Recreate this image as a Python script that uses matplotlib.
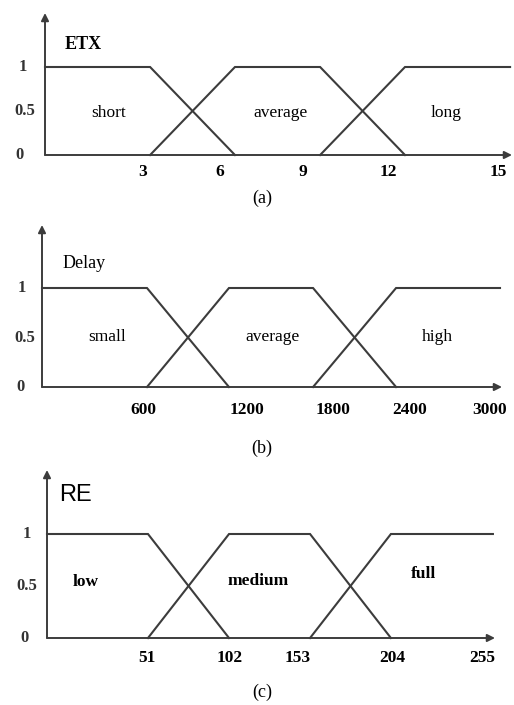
"""Funcoes de pertinencia fuzzy (ETX, Delay, RE) em tres paineis empilhados."""
import matplotlib
matplotlib.use("Agg")
import matplotlib.pyplot as plt

plt.rcParams["font.family"] = ["Liberation Serif", "DejaVu Serif"]

LARGURA, ALTURA = 514, 705
COR = "#3c3c3c"

# --- dados (unidades de cada variavel) ---
ETX_PONTOS = [3.48, 6.29, 9.11, 11.92]
ETX_FIM = 15.40
ETX_TICKS = ["3", "6", "9", "12", "15"]
ETX_TERMOS = ["short", "average", "long"]

DELAY_PONTOS = [703, 1252, 1815, 2371]
DELAY_FIM = 3067
DELAY_TICKS = ["600", "1200", "1800", "2400", "3000"]
DELAY_TERMOS = ["small", "average", "high"]

RE_PONTOS = [59.2, 106.7, 154.2, 201.6]
RE_FIM = 261.4
RE_TICKS = ["51", "102", "153", "204", "255"]
RE_TERMOS = ["low", "medium", "full"]

Y_TICKS = ["1", "0.5", "0"]

# --- layout em pixels ---
PAINEIS = [
    dict(nome="ETX", pontos=ETX_PONTOS, fim=ETX_FIM, ticks=ETX_TICKS,
         termos=ETX_TERMOS, x0=45, x_seta=512, y_zero=155, y_um=67, y_seta=13,
         escala=453 / 15, px_ticks=[143, 220, 303, 388, 498], y_ticks_px=172,
         px_termos=[109, 280, 446], y_termos=[113, 113, 113],
         px_ylab=[23, 25, 20], px_nome=(65, 45), legenda="(a)", y_leg=198,
         nome_kw=dict(fontsize=13, fontweight="bold"), termo_peso="normal"),
    dict(nome="Delay", pontos=DELAY_PONTOS, fim=DELAY_FIM, ticks=DELAY_TICKS,
         termos=DELAY_TERMOS, x0=42, x_seta=502, y_zero=387, y_um=288,
         y_seta=225, escala=448 / 3000, px_ticks=[143, 247, 333, 410, 490],
         y_ticks_px=410, px_termos=[107, 273, 437], y_termos=[337, 337, 337],
         px_ylab=[22, 25, 21], px_nome=(63, 263), legenda="(b)", y_leg=448,
         nome_kw=dict(fontsize=13), termo_peso="normal"),
    dict(nome="RE", pontos=RE_PONTOS, fim=RE_FIM, ticks=RE_TICKS,
         termos=RE_TERMOS, x0=47, x_seta=495, y_zero=638, y_um=534,
         y_seta=470, escala=435 / 255, px_ticks=[147, 230, 298, 392, 482],
         y_ticks_px=658, px_termos=[86, 258, 423], y_termos=[582, 581, 574],
         px_ylab=[27, 27, 24], px_nome=(59, 495), legenda="(c)", y_leg=692,
         nome_kw=dict(fontsize=17, family=["Liberation Sans", "DejaVu Sans"]),
         termo_peso="bold"),
]


def desenhar_painel(fig, p):
    esc = p["escala"]
    alt_um = p["y_zero"] - p["y_um"]
    xmax = (p["x_seta"] - p["x0"]) / esc
    ymax = (p["y_zero"] - p["y_seta"]) / alt_um

    ax = fig.add_axes([
        p["x0"] / LARGURA,
        1 - p["y_zero"] / ALTURA,
        (p["x_seta"] - p["x0"]) / LARGURA,
        (p["y_zero"] - p["y_seta"]) / ALTURA,
    ])
    ax.set_xlim(0, xmax)
    ax.set_ylim(0, ymax)
    ax.axis("off")

    def px_x(px):
        return (px - p["x0"]) / esc

    def px_y(py):
        return (p["y_zero"] - py) / alt_um

    b1, b2, b3, b4 = p["pontos"]
    curvas = [
        ([0, b1, b2], [1, 1, 0]),
        ([b1, b2, b3, b4], [0, 1, 1, 0]),
        ([b3, b4, p["fim"]], [0, 1, 1]),
    ]
    for xs, ys in curvas:
        ax.plot(xs, ys, color=COR, lw=1.5, clip_on=False,
                solid_joinstyle="miter")

    seta = dict(arrowstyle="-|>", color=COR, lw=1.4, mutation_scale=11,
                shrinkA=0, shrinkB=0)
    ax.annotate("", xy=(xmax, 0), xytext=(0, 0), arrowprops=seta,
                annotation_clip=False)
    ax.annotate("", xy=(0, ymax), xytext=(0, 0), arrowprops=seta,
                annotation_clip=False)

    for rot, px in zip(p["ticks"], p["px_ticks"]):
        ax.text(px_x(px), px_y(p["y_ticks_px"]), rot, ha="center",
                va="center", fontsize=12.5, fontweight="bold", clip_on=False)

    for rot, px, yv in zip(Y_TICKS, p["px_ylab"], [1, 0.5, 0]):
        ax.text(px_x(px), yv, rot, ha="center", va="center", fontsize=12,
                fontweight="bold", color="#333333", clip_on=False)

    for rot, px, py in zip(p["termos"], p["px_termos"], p["y_termos"]):
        ax.text(px_x(px), px_y(py), rot, ha="center", va="center",
                fontsize=12.5, fontweight=p["termo_peso"], clip_on=False)

    nx, ny = p["px_nome"]
    ax.text(px_x(nx), px_y(ny), p["nome"], ha="left", va="center",
            clip_on=False, **p["nome_kw"])

    fig.text(262 / LARGURA, 1 - p["y_leg"] / ALTURA, p["legenda"],
             ha="center", va="center", fontsize=13)


def main():
    fig = plt.figure(figsize=(LARGURA / 100, ALTURA / 100), dpi=100)
    for p in PAINEIS:
        desenhar_painel(fig, p)
    fig.savefig("out.png", dpi=100)
    plt.close(fig)


if __name__ == "__main__":
    main()
